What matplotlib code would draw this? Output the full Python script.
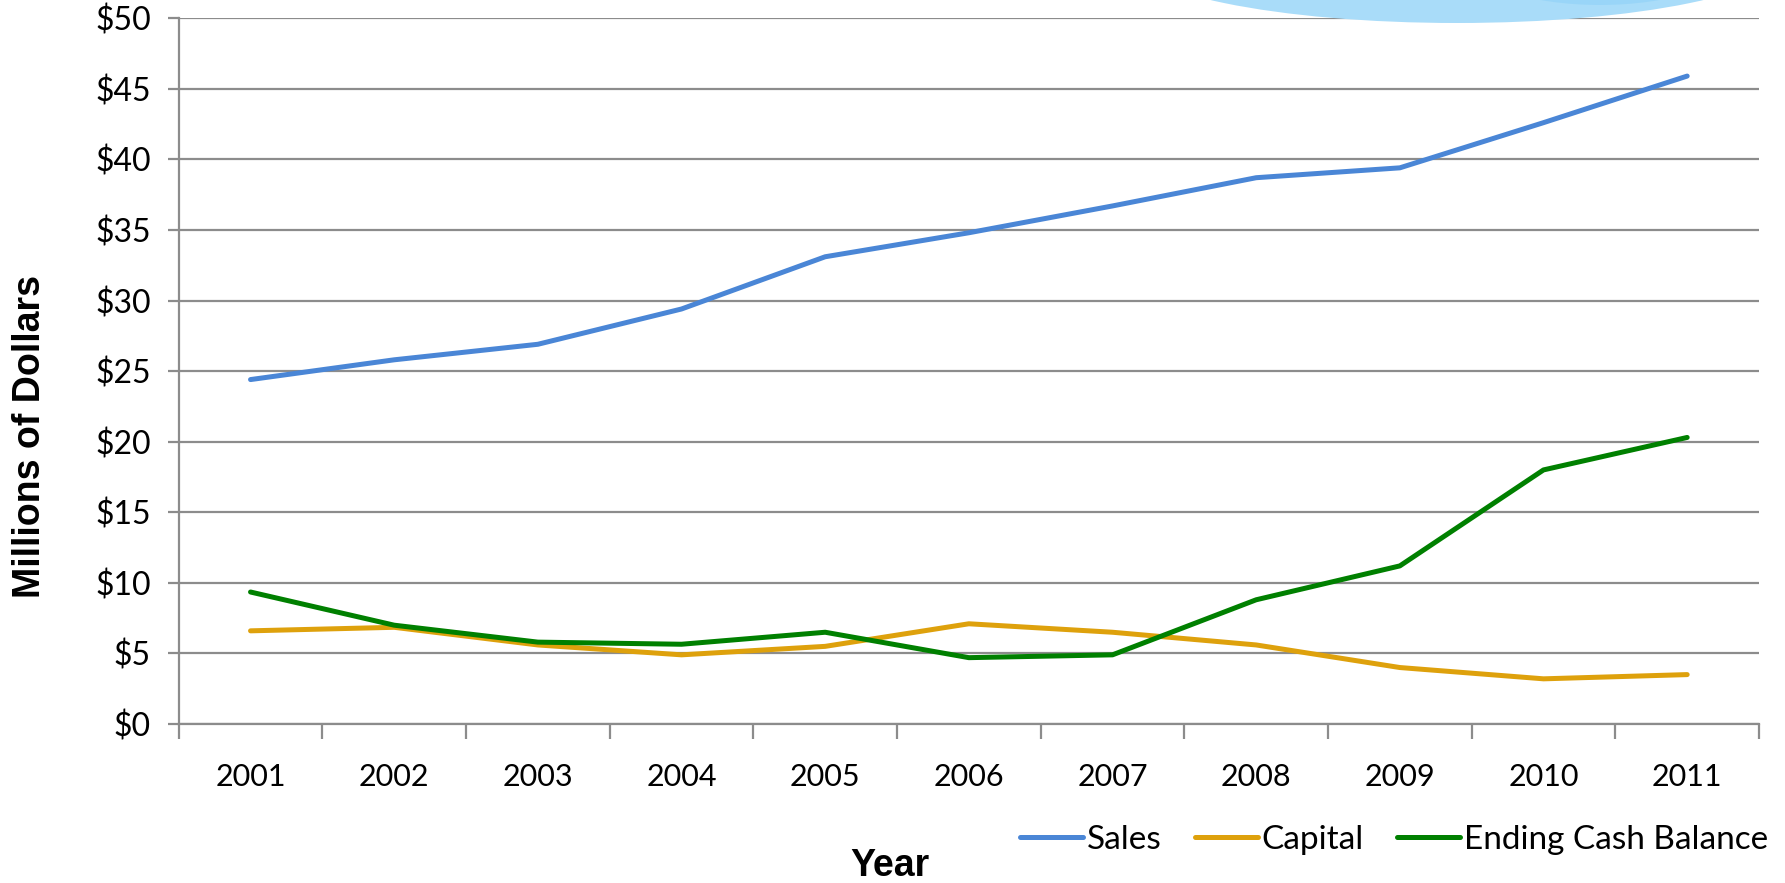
import matplotlib
matplotlib.use("Agg")
import matplotlib.pyplot as plt
from matplotlib.patches import Ellipse
from matplotlib.ticker import FuncFormatter, FixedLocator

years = ['2001', '2002', '2003', '2004', '2005', '2006', '2007', '2008', '2009', '2010', '2011']
sales = [24.4, 25.8, 26.9, 29.4, 33.1, 34.8, 36.7, 38.7, 39.4, 42.6, 45.9]
capital = [6.6, 6.85, 5.6, 4.9, 5.5, 7.1, 6.5, 5.6, 4.0, 3.2, 3.5]
cash = [9.35, 7.0, 5.8, 5.65, 6.5, 4.7, 4.9, 8.8, 11.2, 18.0, 20.3]

series_names = ['Sales', 'Capital', 'Ending Cash Balance']
series_colors = ['#4a86d6', '#dea10c', '#008000']

W, H = 1785, 883
fig = plt.figure(figsize=(W / 100, H / 100), dpi=100)

# decorative blue drop clipped at the top edge
drop = Ellipse((1457, H + 45), 658, 136, transform=None, facecolor='#a9dcf9',
               edgecolor='none', zorder=0)
fig.patches.append(drop)
drop2 = Ellipse((1600, H + 40), 260, 90, transform=None, facecolor='#93d3f8',
                edgecolor='none', zorder=0, alpha=0.7)
fig.patches.append(drop2)

ax = fig.add_axes([178.7 / W, 1 - 724 / H, (1759 - 178.7) / W, (724 - 18.2) / H])
ax.set_facecolor('none')

x = list(range(len(years)))
for vals, name, col in zip([sales, capital, cash], series_names, series_colors):
    ax.plot(x, vals, color=col, lw=3.6, label=name, solid_capstyle='round', zorder=3)

ax.set_xlim(-0.5, len(years) - 0.5)
ax.set_ylim(0, 50)
ax.set_yticks(range(0, 51, 5))
ax.yaxis.set_major_formatter(FuncFormatter(lambda v, p: f'${int(v)}'))
ax.grid(axis='y', color='#8c8c8c', lw=1.6, zorder=1)
ax.set_axisbelow(True)

# x ticks: labels at centers, tick marks at category boundaries
ax.set_xticks(x)
ax.set_xticklabels(years, fontsize=22, fontfamily='Lato')
ax.tick_params(axis='x', which='major', length=0, pad=28)
ax.xaxis.set_minor_locator(FixedLocator([i - 0.5 for i in range(len(years) + 1)]))
ax.tick_params(axis='x', which='minor', length=11, width=1.6, color='#8c8c8c')
ax.tick_params(axis='y', length=8, width=1.6, color='#8c8c8c', pad=12, labelsize=23)
for lab in ax.get_yticklabels():
    lab.set_fontfamily('Lato')

for s in ['top', 'right']:
    ax.spines[s].set_visible(False)
for s in ['left', 'bottom']:
    ax.spines[s].set_color('#8c8c8c')
    ax.spines[s].set_linewidth(1.6)

fig.text(30 / W, 1 - 436 / H, 'Millions of Dollars', rotation=90, ha='center', va='center',
         fontsize=27, fontweight='bold', fontfamily='Liberation Sans')
fig.text(890 / W, 1 - 866 / H, 'Year', ha='center', va='center',
         fontsize=27, fontweight='bold', fontfamily='Liberation Sans')

fig.legend(loc='center', bbox_to_anchor=(1394 / W, 1 - 840 / H), ncol=3, frameon=False,
           prop={'family': 'Lato', 'size': 24}, handlelength=1.9, handletextpad=0.1,
           columnspacing=1.0)

fig.savefig('out.png', dpi=100)
